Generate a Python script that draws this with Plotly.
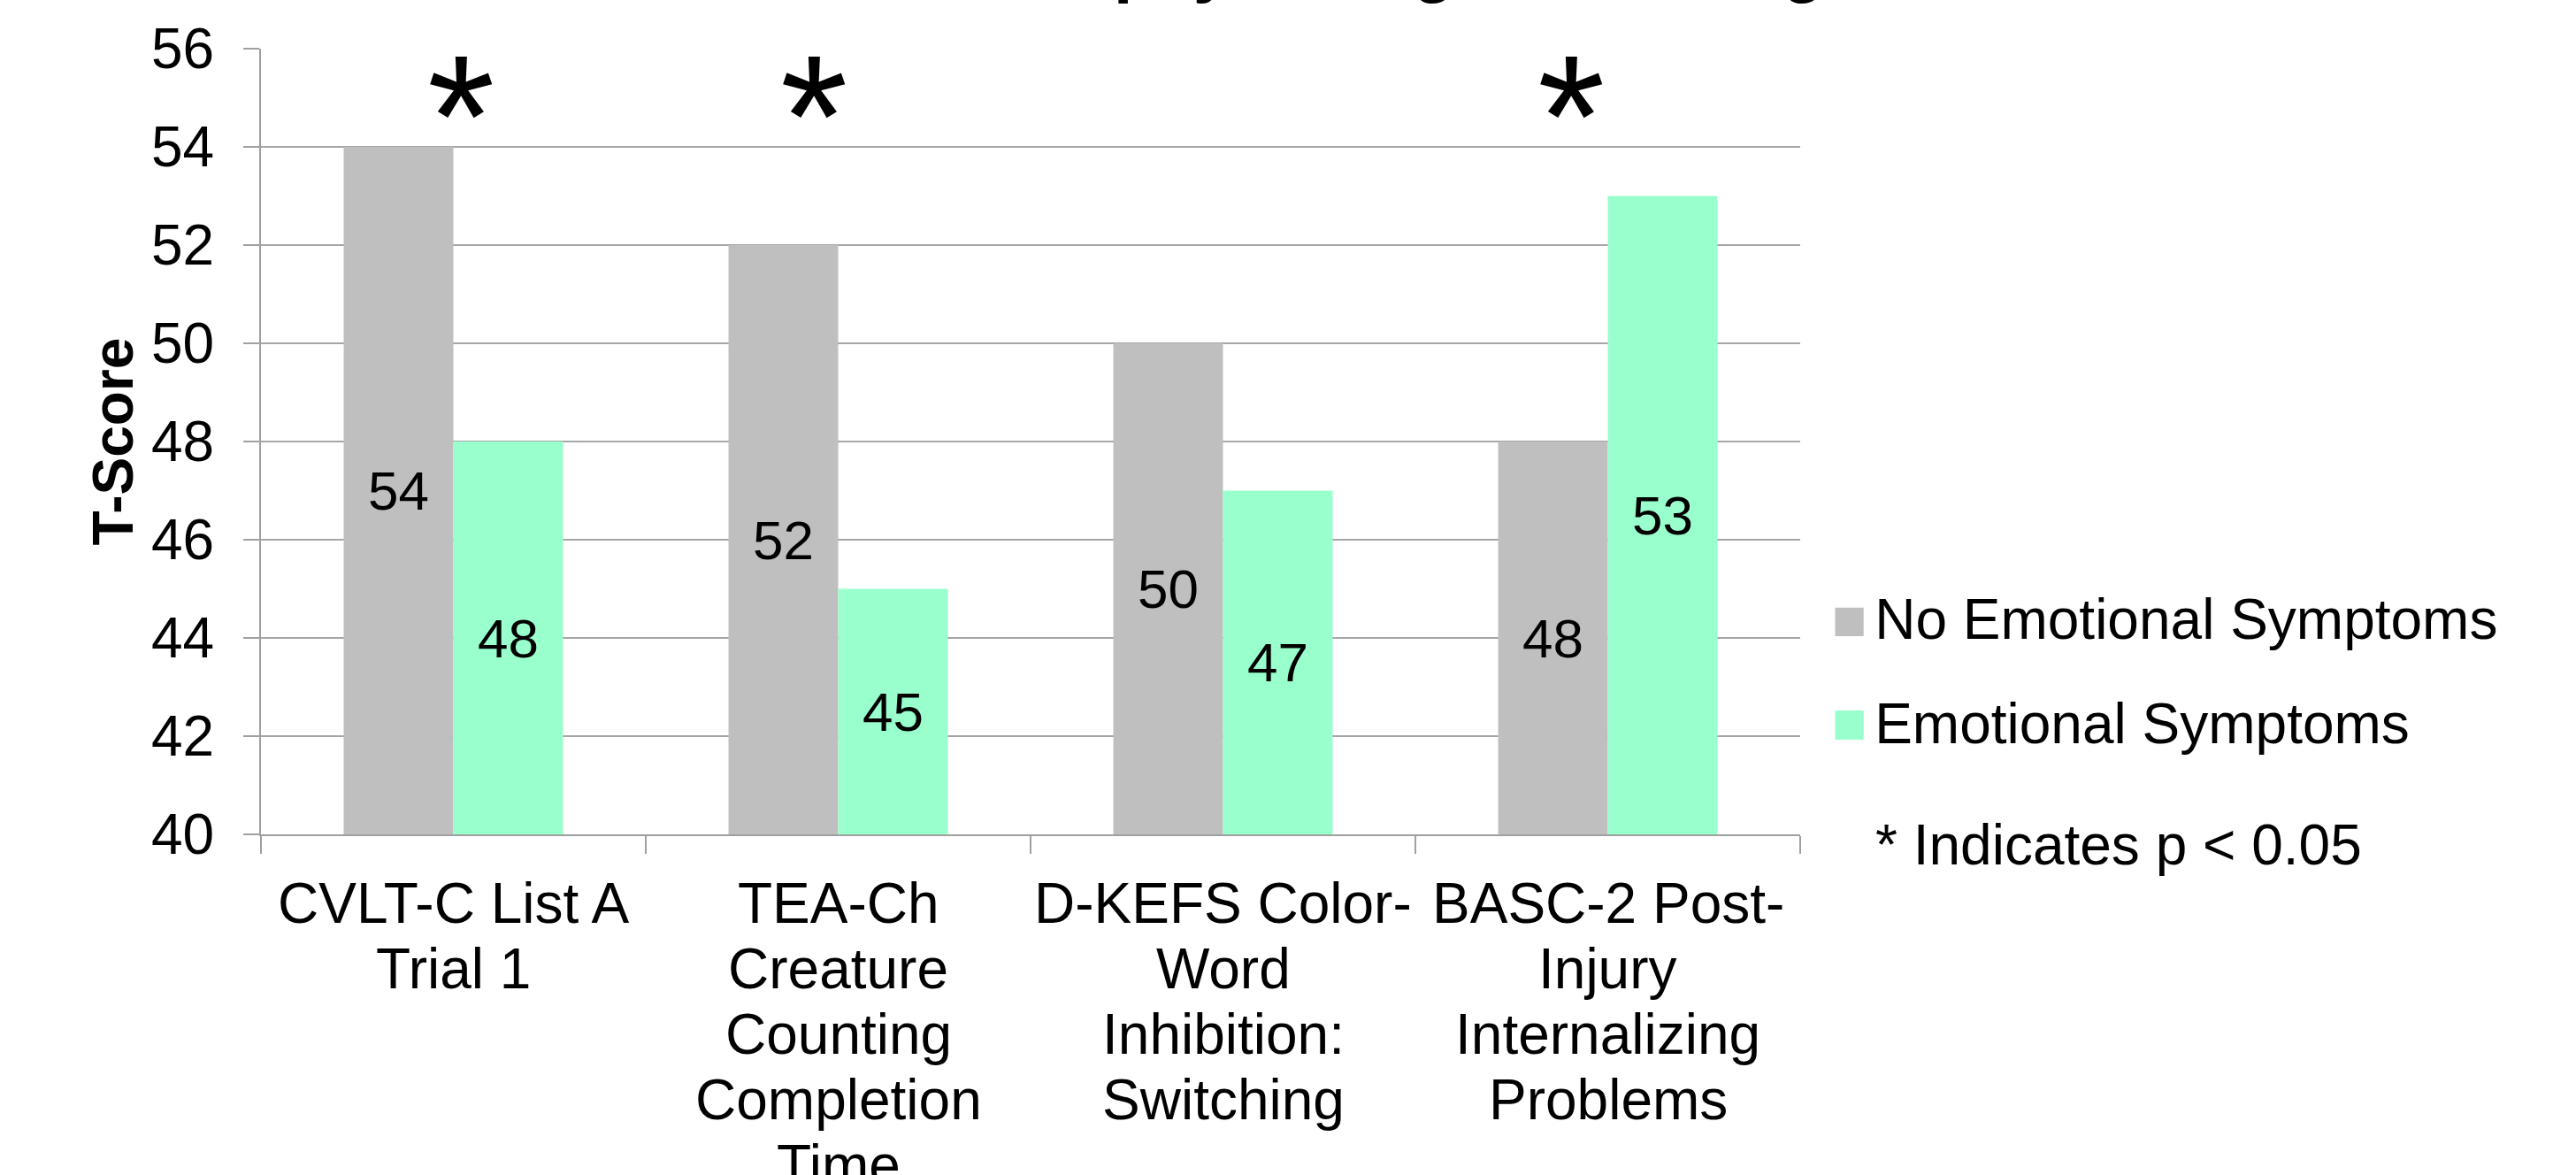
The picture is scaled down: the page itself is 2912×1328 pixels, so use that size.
import plotly.graph_objects as go

categories = [
    "CVLT-C List A<br>Trial 1",
    "TEA-Ch<br>Creature<br>Counting<br>Completion<br>Time",
    "D-KEFS Color-<br>Word<br>Inhibition:<br>Switching",
    "BASC-2 Post-<br>Injury<br>Internalizing<br>Problems",
]
series_names = ["No Emotional Symptoms", "Emotional Symptoms"]
no_emotional = [54, 52, 50, 48]
emotional = [48, 45, 47, 53]
significant = [True, True, False, True]
y_min, y_max = 40, 56
y_ticks = [40, 42, 44, 46, 48, 50, 52, 54, 56]

FONT = "Liberation Sans, Arial, sans-serif"
colors = ["#BFBFBF", "#99FFCC"]
star_xshift = [8, -28, 0, -42]
LABEL_FIRST = 78      # px below the axis to first label line centre
LABEL_STEP = 74       # px between label lines

fig = go.Figure()
for name, vals, col in zip(series_names, [no_emotional, emotional], colors):
    fig.add_trace(go.Bar(
        x=categories, y=[v - y_min for v in vals], base=y_min,
        name=name, legendgroup=name,
        marker=dict(color=col, line=dict(width=0)),
        text=[str(v) for v in vals], textposition="inside",
        insidetextanchor="middle", textangle=0,
        textfont=dict(family=FONT, size=62, color="black"),
        hovertemplate="%{text}<extra>" + name + "</extra>",
    ))

# category labels, one line per annotation for tighter line spacing
for cat in categories:
    for j, line in enumerate(cat.split("<br>")):
        fig.add_annotation(x=cat, y=0, xref="x", yref="paper", text=line,
                           showarrow=False, yanchor="middle", xanchor="center",
                           yshift=-(LABEL_FIRST + j * LABEL_STEP),
                           font=dict(family=FONT, size=64, color="black"))

for cat, sig, dx in zip(categories, significant, star_xshift):
    if sig:
        fig.add_annotation(x=cat, y=54.6, xref="x", yref="y", text="*",
                           showarrow=False, xshift=dx, yanchor="middle",
                           font=dict(family=FONT, size=196, color="black"))

fig.add_annotation(x=1.0477, y=-0.0135, xref="paper", yref="paper",
                   text="* Indicates p < 0.05", showarrow=False,
                   xanchor="left", yanchor="middle",
                   font=dict(family=FONT, size=64, color="black"))

# enlarged legend keys (drawn over the legend's small swatches)
for col, (y0, y1) in zip(colors, [(0.2523, 0.2886), (0.1205, 0.1577)]):
    fig.add_shape(type="rect", xref="paper", yref="paper",
                  x0=1.0227, x1=1.0412, y0=y0, y1=y1,
                  fillcolor=col, line=dict(width=0), layer="above")

fig.update_layout(
    width=2912, height=1328,
    margin=dict(l=295, r=877, t=55, b=385, autoexpand=False),
    paper_bgcolor="white", plot_bgcolor="white",
    barmode="group", bargap=0.43, bargroupgap=0,
    font=dict(family=FONT, size=64, color="black"),
    title=dict(text="<b>Neuropsychological Testing</b>", x=0.532, xanchor="center",
               xref="container", y=1, yanchor="bottom", yref="paper",
               pad=dict(b=67),
               font=dict(family=FONT, size=77, color="black")),
    showlegend=True,
    legend=dict(x=0.714, xref="container", y=1 - 649 / 1328, yref="container",
                xanchor="left", yanchor="top", tracegroupgap=32,
                font=dict(family=FONT, size=64, color="black"),
                bgcolor="rgba(0,0,0,0)"),
    xaxis=dict(showgrid=False, showline=True, linecolor="#A0A0A0", linewidth=2,
               ticks="outside", tickson="boundaries", ticklen=20, tickcolor="#A0A0A0",
               tickwidth=2, showticklabels=False),
    yaxis=dict(range=[y_min, y_max], tickvals=y_ticks, showgrid=True, gridcolor="#A6A6A6",
               gridwidth=2, showline=True, linecolor="#A0A0A0", linewidth=2,
               ticks="outside", ticklen=18, tickcolor="#A0A0A0", tickwidth=2,
               tickfont=dict(family=FONT, size=64, color="black"),
               ticklabelstandoff=20, zeroline=False,
               title=dict(text="<b>T-Score</b>", standoff=0,
                          font=dict(family=FONT, size=64, color="black"))),
)

fig.write_html("out.html", config={"displayModeBar": False},
               post_script="document.body.style.margin='0';")
